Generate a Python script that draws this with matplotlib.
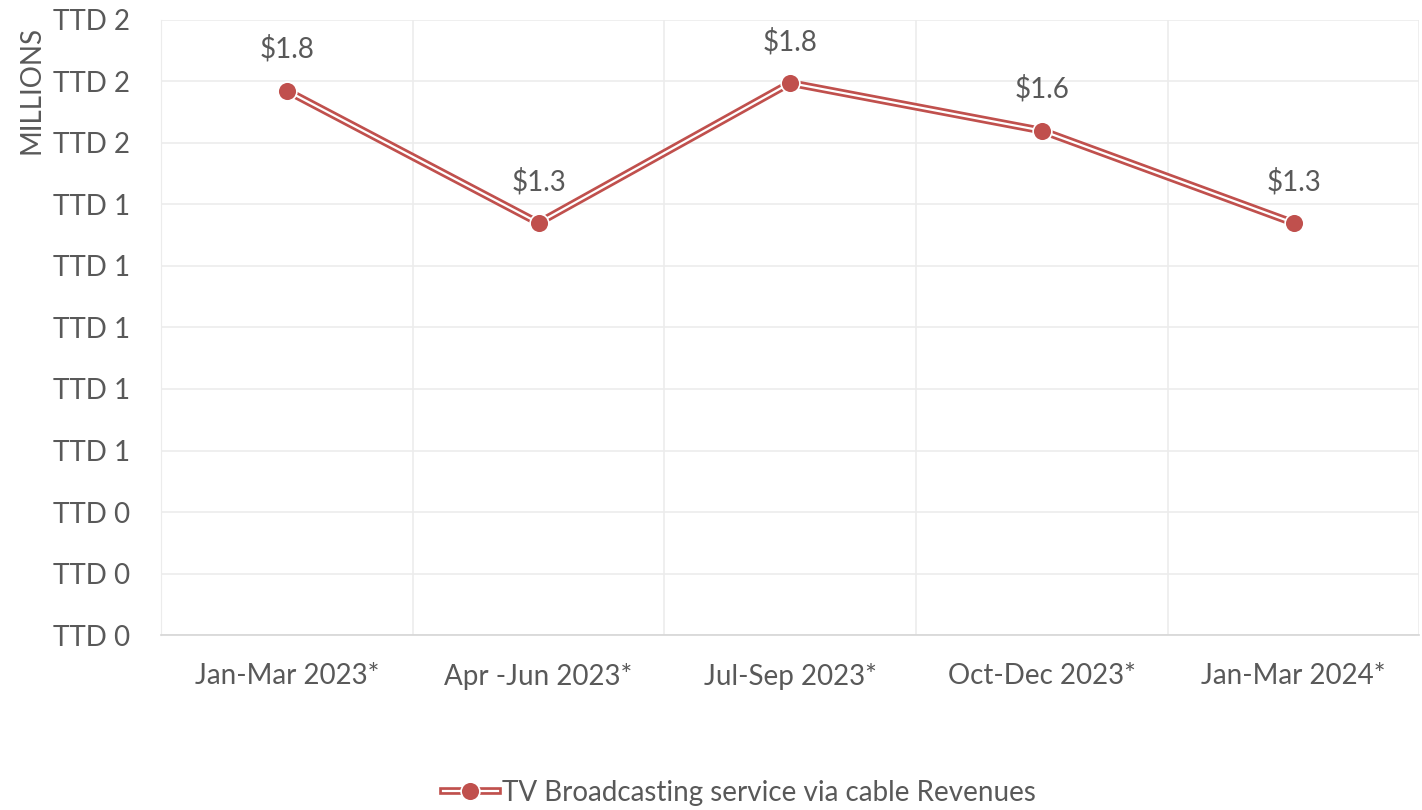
import matplotlib
matplotlib.use("Agg")
import matplotlib.pyplot as plt
from matplotlib.lines import Line2D
from matplotlib.ticker import FuncFormatter, MultipleLocator

plt.rcParams['font.family'] = ['Lato', 'DejaVu Sans']

quarters = ['Jan-Mar 2023*', 'Apr -Jun 2023*', 'Jul-Sep 2023*', 'Oct-Dec 2023*', 'Jan-Mar 2024*']
revenue = [1.77, 1.34, 1.795, 1.64, 1.34]   # TTD millions
series_name = 'TV Broadcasting service via cable Revenues'

red = '#c0504d'
txt = '#595959'
grid = '#ececec'
fs = 20

fig = plt.figure(figsize=(14.22, 8.1), dpi=100)
ax = fig.add_axes([0.1132, 0.216, 0.885, 0.7594])

x = list(range(len(quarters)))

# double (compound) line: thick red with a thin white core
ax.plot(x, revenue, color=red, lw=5.5, solid_capstyle='butt', zorder=3)
ax.plot(x, revenue, color='white', lw=1.6, solid_capstyle='butt', zorder=4)
ax.plot(x, revenue, ls='none', marker='o', ms=13.5, mfc=red, mec='white', mew=1.2, zorder=5)

for xi, v in zip(x, revenue):
    ax.annotate(f'${v:.1f}', (xi, v), xytext=(0, 20), textcoords='offset points',
                ha='center', va='bottom', fontsize=fs, color=txt)

ax.set_xlim(-0.5, len(quarters) - 0.5)
ax.set_ylim(0, 2.0)
ax.yaxis.set_major_locator(MultipleLocator(0.2))
ax.yaxis.set_major_formatter(FuncFormatter(lambda v, p: f'TTD {v:.0f}'))
ax.set_xticks(x)
ax.set_xticklabels(quarters)
ax.set_xticks([i - 0.5 for i in range(len(quarters) + 1)], minor=True)

ax.grid(axis='y', which='major', color=grid, lw=1.2)
ax.grid(axis='x', which='minor', color=grid, lw=1.2)
ax.set_axisbelow(True)

for side in ['top', 'right']:
    ax.spines[side].set_visible(False)
ax.spines['left'].set_color(grid)
ax.spines['bottom'].set_color('#d6d6d6')
ax.spines['bottom'].set_linewidth(1.2)

ax.tick_params(axis='both', which='both', length=0, labelsize=fs, colors=txt)
ax.tick_params(axis='y', pad=22)
ax.tick_params(axis='x', pad=20)

fig.text(32 / 1422, 1 - 90 / 810, 'MILLIONS', rotation=90, ha='center', va='center',
         fontsize=fs, color=txt)

handle = (Line2D([], [], color=red, lw=5.5),
          Line2D([], [], color='white', lw=1.6),
          Line2D([], [], ls='none', marker='o', ms=13.5, mfc=red, mec='white', mew=1.2))
fig.legend([handle], [series_name], loc='center', bbox_to_anchor=(0.52, 1 - 793 / 810),
           frameon=False, fontsize=fs, labelcolor=txt, handlelength=2.0, handletextpad=0.15)

fig.savefig('out.png', dpi=100)
